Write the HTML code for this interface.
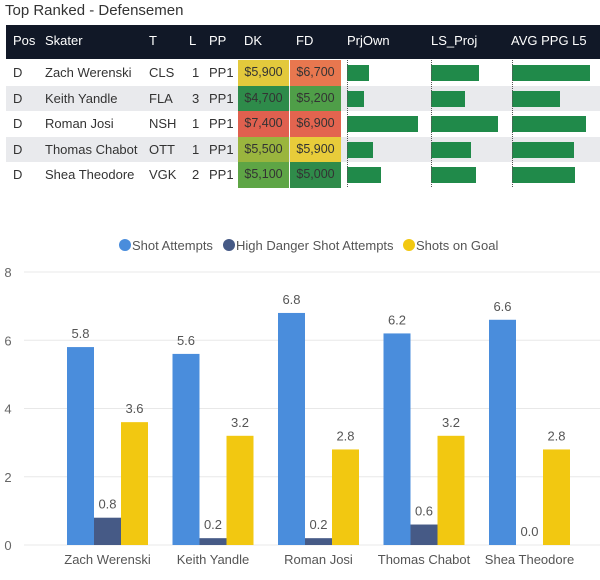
<!DOCTYPE html>
<html><head><meta charset="utf-8"><style>
body{margin:0;width:600px;height:580px;background:#fff;font-family:"Liberation Sans",sans-serif;position:relative;overflow:hidden}
.t{position:absolute;white-space:nowrap}
#title{left:5px;top:2px;font-size:15px;color:#333}
#hdr{position:absolute;left:6px;top:25px;width:594px;height:34px;background:#111827}
.h{position:absolute;top:34px;color:#fff;font-size:13px;line-height:14px}
.row{position:absolute;left:6px;width:594px;height:25.5px}
.c{position:absolute;font-size:13px;color:#333;line-height:25.5px;white-space:nowrap}
.cell{position:absolute;height:25.5px;width:51px;text-align:center;line-height:25.5px;font-size:12.5px;color:#333}
.bar{position:absolute;height:16px;background:#208a4a}
.dl{position:absolute;width:0;border-left:1px dotted #555;top:60px;height:127px}
</style></head><body>
<div id="title" class="t">Top Ranked - Defensemen</div>
<div id="hdr"></div>
<div class="h t" style="left:13px">Pos</div>
<div class="h t" style="left:45px">Skater</div>
<div class="h t" style="left:149px">T</div>
<div class="h t" style="left:189px">L</div>
<div class="h t" style="left:209px">PP</div>
<div class="h t" style="left:244px">DK</div>
<div class="h t" style="left:296px">FD</div>
<div class="h t" style="left:347px">PrjOwn</div>
<div class="h t" style="left:431px">LS_Proj</div>
<div class="h t" style="left:511px">AVG PPG L5</div>
<div id="rows"></div>
<svg id="chart" width="600" height="380" style="position:absolute;left:0;top:200px"></svg>
<script>
const names=["Zach Werenski","Keith Yandle","Roman Josi","Thomas Chabot","Shea Theodore"];
const teams=["CLS","FLA","NSH","OTT","VGK"];
const lines=["1","3","1","1","2"];
const dk=["$5,900","$4,700","$7,400","$5,500","$5,100"];
const fd=["$6,700","$5,200","$6,900","$5,900","$5,000"];
const dkColors=["#e3c93c","#2e8b4a","#e0604f","#9ab53e","#5ea545"];
const fdColors=["#e8774f","#4f9e48","#e3644f","#e8cc3a","#2f8b4a"];
const prjOwn=[22,17,71,26,34];
const lsProj=[48,34,67,40,45];
const avgPpg=[78,48,74,62,63];
const shotAttempts=[5.8,5.6,6.8,6.2,6.6];
const highDanger=[0.8,0.2,0.2,0.6,0.0];
const shotsOnGoal=[3.6,3.2,2.8,3.2,2.8];
const yTicks=[0,2,4,6,8];
const R=document.getElementById('rows');
function mk(cls,style,txt){const d=document.createElement('div');d.className=cls;d.style.cssText=style;if(txt!==undefined)d.textContent=txt;return d;}
names.forEach((n,i)=>{
 const r=mk('row','top:'+(60+i*25.5)+'px;background:'+(i%2?'#e9eaed':'#fff'));
 
 
 r.appendChild(mk('c','left:7px','D'));
 r.appendChild(mk('c','left:39px',n));
 r.appendChild(mk('c','left:143px',teams[i]));
 r.appendChild(mk('c','left:186px',lines[i]));
 r.appendChild(mk('c','left:203px','PP1'));
 r.appendChild(mk('cell','left:232px;background:'+dkColors[i],dk[i]));
 r.appendChild(mk('cell','left:284px;background:'+fdColors[i],fd[i]));
 const b1=mk('bar','left:341px;top:5px;width:'+prjOwn[i]+'px');r.appendChild(b1);
 const b2=mk('bar','left:425px;top:5px;width:'+lsProj[i]+'px');r.appendChild(b2);
 const b3=mk('bar','left:506px;top:5px;width:'+avgPpg[i]+'px');r.appendChild(b3);
 R.appendChild(r);
});
[347,431,512].forEach(x=>{const d=mk('dl','left:'+x+'px');document.body.appendChild(d);});
const S=document.getElementById('chart');const NS='http://www.w3.org/2000/svg';
const top0=200;
function y(v){return 545-top0-v*(273/8);}
const bandStart=54.75,step=105.5,bw=27;
function x(i,s){return bandStart+i*step+step/2-1.5*bw+s*bw;}
function el(t,a,txt){const e=document.createElementNS(NS,t);for(const k in a)e.setAttribute(k,a[k]);if(txt!==undefined)e.textContent=txt;S.appendChild(e);return e;}
yTicks.forEach(v=>{const g=el('line',{x1:24,x2:600,y1:y(v),y2:y(v),stroke:'#e8e8e8','stroke-width':1});
 const t=el('text',{x:8,y:y(v)+5,'font-size':13,fill:'#666','text-anchor':'middle'},String(v));});
const series=[[shotAttempts,'#4a8ddc'],[highDanger,'#465a86'],[shotsOnGoal,'#f2c811']];
series.forEach(([arr,c],s)=>arr.forEach((v,i)=>{
 const r=el('rect',{x:x(i,s),y:y(v),width:bw,height:y(0)-y(v),fill:c});
 const t=el('text',{x:x(i,s)+bw/2,y:y(v)-9,'font-size':13,fill:'#555','text-anchor':'middle'},v.toFixed(1));
}));
names.forEach((n,i)=>{const t=el('text',{x:bandStart+i*step+step/2,y:364,'font-size':13,fill:'#555','text-anchor':'middle'},n);});
const leg=[['Shot Attempts','#4a8ddc',125],['High Danger Shot Attempts','#465a86',229],['Shots on Goal','#f2c811',409]];
leg.forEach(([n,c,lx])=>{const ci=el('circle',{cx:lx,cy:45,r:6,fill:c});
 const t=el('text',{x:lx+7,y:50,'font-size':13,fill:'#555'},n);});
</script>
</body></html>
